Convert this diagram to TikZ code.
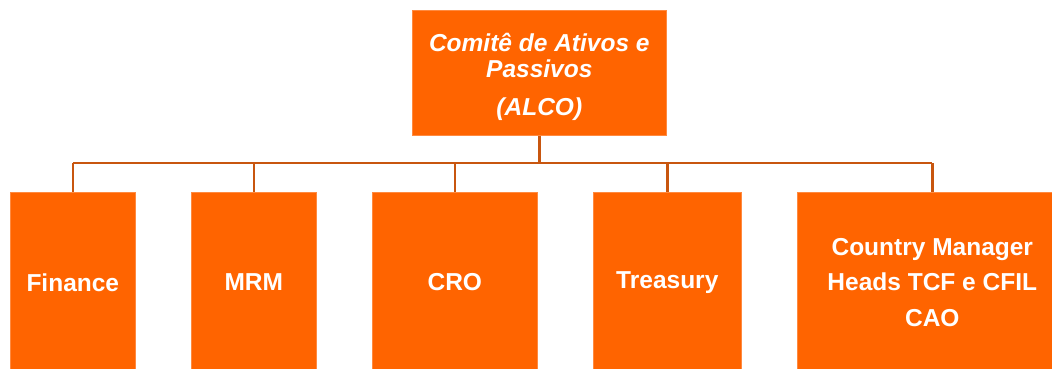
\documentclass[tikz,border=0pt]{standalone}
\usepackage{fontspec}
\setmainfont{Liberation Sans}
\definecolor{boxfill}{HTML}{FF6400}
\definecolor{boxedge}{HTML}{FF8A40}
\definecolor{linkcol}{HTML}{C8560F}
\begin{document}
\begin{tikzpicture}[x=1pt,y=-1pt,
  orgbox/.style={rectangle, fill=boxfill, draw=boxedge, line width=0.6pt, inner sep=0pt,
    text=white, align=center, anchor=north west,
    font=\fontsize{24.5}{35.5}\selectfont\bfseries},
  topbox/.style={orgbox, font=\fontsize{24.5}{26}\selectfont\bfseries\itshape},
  link/.style={draw=linkcol, line width=2.6pt}]
\useasboundingbox (0,0) rectangle (1052,369);
\clip (0,0) rectangle (1052,369);
\node[topbox, minimum width=254pt, minimum height=125pt] (alco) at (412,10)
  {\rule{0pt}{26pt}Comitê de Ativos e\\Passivos\\[12pt](ALCO)};
\node[orgbox, minimum width=125pt, minimum height=180pt] (fin) at (10,192) {Finance};
\node[orgbox, minimum width=125pt, minimum height=180pt] (mrm) at (191,192) {MRM};
\node[orgbox, minimum width=165pt, minimum height=180pt] (cro) at (372,192) {CRO};
\node[orgbox, minimum width=148pt, minimum height=180pt] (tre) at (593,192) {Treasury};
\node[orgbox, minimum width=270pt, minimum height=180pt] (cm) at (797,192)
  {Country Manager\\Heads TCF e CFIL\\CAO};
\coordinate (bus) at (539,163);
\draw[link] (alco.south) -- (alco.south |- bus);
\draw[link] (fin.north |- bus) -- (cm.north |- bus);
\foreach \n in {fin,mrm,cro,tre,cm} {
  \draw[link] (\n.north |- bus) -- (\n.north);
}
\end{tikzpicture}
\end{document}
